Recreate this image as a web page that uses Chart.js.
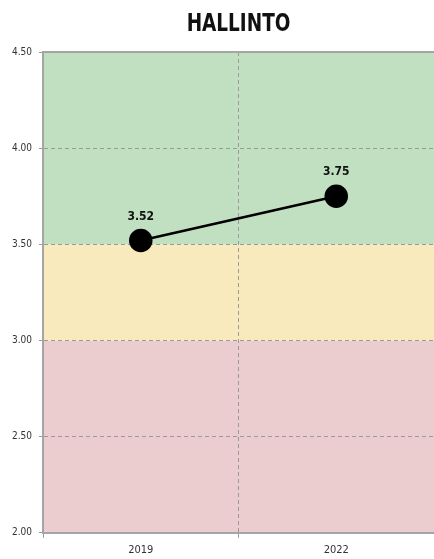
<!DOCTYPE html>
<html>
<head>
<meta charset="utf-8">
<script src="https://cdn.jsdelivr.net/npm/chart.js@4"></script>
<style>
  html, body { margin: 0; padding: 0; background: #fff; }
  #wrap { width: 434px; height: 559px; }
</style>
</head>
<body>
<div id="wrap"><canvas id="myChart" width="434" height="559"></canvas></div>
<script>
const years = ["2019", "2022"];
const scores = [3.52, 3.75];
const yTicks = [2.0, 2.5, 3.0, 3.5, 4.0, 4.5];
// colour bands behind the plot: [from, to]
const bandRanges = [[2.0, 3.0], [3.0, 3.5], [3.5, 4.5]];
const bandColors = ["#ebcdd0", "#f9eabd", "#c1dfc1"];
const chartTitle = "HALLINTO";

const FONT = "'DejaVu Sans Condensed', 'Liberation Sans Narrow', sans-serif";

// paint the red / yellow / green zones, and the title centred over the plot
const bandsPlugin = {
  id: "bands",
  beforeDraw: (chart) => {
    const ctx = chart.ctx;
    const { left, right, top } = chart.chartArea;
    const y = chart.scales.y;
    ctx.save();
    bandRanges.forEach((range, i) => {
      const t = y.getPixelForValue(range[1]);
      const b = y.getPixelForValue(range[0]);
      ctx.fillStyle = bandColors[i];
      ctx.fillRect(left, t, right - left, b - t);
    });
    // title, squeezed a bit to look like a condensed face
    ctx.translate((left + right) / 2, top - 21);
    ctx.scale(0.82, 1);
    ctx.font = "bold 25px " + FONT;
    ctx.fillStyle = "#111";
    ctx.textAlign = "center";
    ctx.textBaseline = "alphabetic";
    ctx.fillText(chartTitle, 0, 0);
    ctx.restore();
  },
  afterDraw: (chart) => {
    // solid frame line along the top of the plot
    const ctx = chart.ctx;
    const { left, right, top } = chart.chartArea;
    ctx.save();
    ctx.strokeStyle = "#a5a5a5";
    ctx.lineWidth = 2;
    ctx.beginPath();
    ctx.moveTo(left, top);
    ctx.lineTo(right, top);
    ctx.stroke();
    ctx.restore();
  },
};

// value labels above the points
const labelsPlugin = {
  id: "valueLabels",
  afterDatasetsDraw: (chart) => {
    const ctx = chart.ctx;
    const meta = chart.getDatasetMeta(0);
    ctx.save();
    ctx.font = "bold 12px " + FONT;
    ctx.fillStyle = "#111";
    ctx.textAlign = "center";
    ctx.textBaseline = "bottom";
    meta.data.forEach((pt, i) => {
      ctx.fillText(scores[i].toFixed(2), pt.x, pt.y - 18);
    });
    ctx.restore();
  },
};

new Chart(document.getElementById("myChart"), {
  type: "line",
  plugins: [bandsPlugin, labelsPlugin],
  data: {
    labels: years,
    datasets: [
      {
        data: scores,
        borderColor: "#000",
        borderWidth: 2.5,
        backgroundColor: "#000",
        pointRadius: 10.5,
        pointHoverRadius: 10.5,
        pointBorderColor: "#000",
        clip: false,
      },
    ],
  },
  options: {
    responsive: false,
    animation: false,
    layout: { autoPadding: false, padding: { left: 5, right: 0, top: 52, bottom: -4 } },
    plugins: {
      legend: { display: false },
      tooltip: { enabled: false },
      title: { display: false },
    },
    scales: {
      x: {
        offset: true,
        grid: {
          offset: true,
          color: "#9a9a9a",
          drawTicks: true,
          tickLength: 5,
        },
        border: { display: true, color: "#a5a5a5", width: 2, dash: [4, 3] },
        ticks: {
          color: "#333",
          font: { family: FONT, size: 11 },
          padding: 6,
        },
      },
      y: {
        min: 2,
        max: 4.5,
        afterBuildTicks: (axis) => {
          axis.ticks = yTicks.map((v) => ({ value: v }));
        },
        grid: {
          color: "#9a9a9a",
          drawTicks: true,
          tickLength: 4,
        },
        border: { display: true, color: "#a5a5a5", width: 2, dash: [4, 3] },
        ticks: {
          color: "#333",
          font: { family: FONT, size: 10 },
          padding: 7,
          callback: (v) => Number(v).toFixed(2),
        },
      },
    },
  },
});
</script>
</body>
</html>
